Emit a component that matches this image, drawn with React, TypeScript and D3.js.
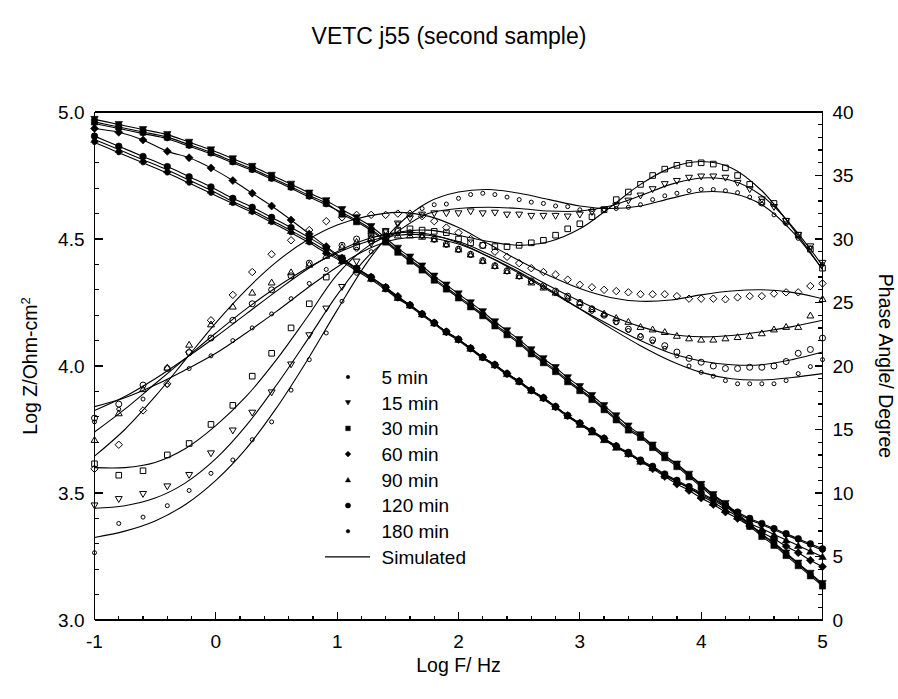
import React from 'react';
import * as d3 from 'd3';

// log10 frequency of each measured point
const LOGF = [-1.0, -0.8, -0.6, -0.4, -0.22, -0.04, 0.14, 0.3, 0.46, 0.62, 0.77, 0.91, 1.04, 1.16, 1.28,
  1.4, 1.5, 1.6, 1.7, 1.8, 1.9, 2.0, 2.1, 2.2, 2.3, 2.4, 2.5, 2.6, 2.7, 2.8, 2.9, 3.0, 3.1, 3.2, 3.3, 3.4,
  3.5, 3.6, 3.7, 3.8, 3.9, 4.0, 4.1, 4.2, 4.3, 4.4, 4.5, 4.6, 4.7, 4.8, 4.9, 5.0];

// log10 frequency of the simulated phase curves
const SIM_LOGF = [-1, -0.75, -0.5, -0.25, 0, 0.25, 0.5, 0.75, 1, 1.25, 1.5, 1.75, 2, 2.25, 2.5, 2.75, 3,
  3.25, 3.5, 3.75, 4, 4.25, 4.5, 4.75, 5];

const SERIES_NAMES = ['5 min', '15 min', '30 min', '60 min', '90 min', '120 min', '180 min'];

// Log |Z| (Ohm-cm2)
const Z_5 = [4.955, 4.935, 4.915, 4.895, 4.865, 4.835, 4.80, 4.77, 4.735, 4.70, 4.665, 4.635, 4.604, 4.574, 4.539, 4.494, 4.454, 4.419, 4.384, 4.344, 4.309, 4.274, 4.239, 4.204, 4.164, 4.129, 4.094, 4.054, 4.019, 3.984, 3.944, 3.909, 3.874, 3.834, 3.794, 3.754, 3.725, 3.685, 3.645, 3.61, 3.57, 3.53, 3.49, 3.455, 3.415, 3.375, 3.335, 3.30, 3.26, 3.22, 3.18, 3.14];
const Z_15 = [4.971, 4.951, 4.931, 4.911, 4.881, 4.851, 4.816, 4.786, 4.751, 4.716, 4.681, 4.651, 4.616, 4.584, 4.549, 4.504, 4.464, 4.429, 4.394, 4.354, 4.319, 4.284, 4.249, 4.214, 4.174, 4.139, 4.104, 4.064, 4.029, 3.994, 3.954, 3.919, 3.884, 3.844, 3.804, 3.764, 3.729, 3.689, 3.649, 3.614, 3.574, 3.534, 3.494, 3.459, 3.419, 3.379, 3.339, 3.304, 3.264, 3.224, 3.184, 3.144];
const Z_30 = [4.961, 4.941, 4.921, 4.901, 4.871, 4.841, 4.806, 4.776, 4.741, 4.706, 4.671, 4.641, 4.598, 4.568, 4.533, 4.488, 4.448, 4.413, 4.378, 4.338, 4.303, 4.268, 4.233, 4.198, 4.158, 4.123, 4.088, 4.048, 4.013, 3.978, 3.938, 3.903, 3.868, 3.828, 3.788, 3.748, 3.719, 3.679, 3.639, 3.604, 3.564, 3.524, 3.484, 3.449, 3.409, 3.369, 3.329, 3.294, 3.254, 3.214, 3.174, 3.134];
const Z_60 = [4.935, 4.92, 4.89, 4.845, 4.82, 4.78, 4.73, 4.68, 4.63, 4.575, 4.52, 4.47, 4.425, 4.385, 4.35, 4.31, 4.275, 4.24, 4.205, 4.17, 4.135, 4.105, 4.07, 4.035, 4.005, 3.97, 3.94, 3.905, 3.875, 3.84, 3.805, 3.775, 3.745, 3.715, 3.685, 3.655, 3.625, 3.595, 3.565, 3.535, 3.51, 3.48, 3.455, 3.425, 3.40, 3.37, 3.345, 3.32, 3.29, 3.265, 3.235, 3.21];
const Z_90 = [4.892, 4.852, 4.812, 4.772, 4.732, 4.692, 4.648, 4.613, 4.573, 4.533, 4.493, 4.453, 4.415, 4.38, 4.345, 4.305, 4.27, 4.24, 4.205, 4.17, 4.135, 4.105, 4.07, 4.035, 4.005, 3.97, 3.94, 3.905, 3.875, 3.84, 3.805, 3.77, 3.74, 3.71, 3.68, 3.655, 3.625, 3.60, 3.57, 3.545, 3.52, 3.49, 3.463, 3.435, 3.408, 3.381, 3.359, 3.337, 3.315, 3.293, 3.271, 3.25];
const Z_120 = [4.905, 4.865, 4.825, 4.785, 4.745, 4.705, 4.66, 4.625, 4.585, 4.545, 4.505, 4.465, 4.42, 4.385, 4.35, 4.31, 4.27, 4.24, 4.205, 4.17, 4.135, 4.105, 4.07, 4.035, 4.005, 3.97, 3.94, 3.905, 3.875, 3.84, 3.805, 3.775, 3.745, 3.715, 3.685, 3.66, 3.63, 3.605, 3.575, 3.55, 3.525, 3.50, 3.475, 3.45, 3.425, 3.40, 3.38, 3.36, 3.34, 3.32, 3.30, 3.28];
const Z_180 = [4.88, 4.84, 4.80, 4.76, 4.72, 4.68, 4.64, 4.605, 4.565, 4.525, 4.485, 4.445, 4.41, 4.375, 4.34, 4.30, 4.265, 4.235, 4.20, 4.165, 4.13, 4.10, 4.065, 4.03, 4.00, 3.965, 3.935, 3.90, 3.87, 3.835, 3.80, 3.77, 3.74, 3.71, 3.68, 3.655, 3.625, 3.60, 3.57, 3.545, 3.52, 3.495, 3.47, 3.445, 3.42, 3.395, 3.375, 3.355, 3.335, 3.315, 3.295, 3.275];

// Phase angle (degree)
const PH_5 = [5.3, 7.6, 8.1, 9.0, 10.2, 11.55, 12.6, 14.2, 15.6, 18.1, 20.5, 22.6, 25.1, 27.3, 29.0, 30.3, 31.2, 31.9, 32.4, 32.7, 32.75, 33.2, 33.5, 33.6, 33.5, 33.3, 33.1, 32.9, 32.8, 32.6, 32.55, 32.3, 32.3, 32.3, 32.4, 32.5, 32.7, 33.1, 33.4, 33.6, 33.8, 33.9, 33.9, 33.8, 33.65, 33.3, 32.75, 31.9, 31.2, 30.05, 29.3, 28.0];
const PH_15 = [9.0, 9.5, 9.9, 10.5, 11.4, 13.1, 14.9, 16.3, 17.9, 20.1, 22.4, 24.5, 26.2, 28.2, 29.6, 30.6, 31.2, 31.6, 31.9, 32.0, 32.0, 32.0, 32.15, 32.0, 32.05, 31.9, 31.9, 31.8, 31.8, 31.8, 31.75, 31.9, 32.1, 32.3, 32.6, 33.0, 33.4, 33.9, 34.3, 34.55, 34.8, 34.9, 34.9, 34.8, 34.4, 33.9, 33.1, 32.5, 31.4, 30.3, 29.4, 28.1];
const PH_30 = [12.3, 11.4, 11.75, 13.0, 13.9, 15.4, 16.9, 19.2, 21.0, 23.0, 24.9, 27.0, 28.5, 29.4, 30.1, 30.5, 30.7, 30.8, 30.7, 30.6, 30.5, 30.0, 29.7, 29.5, 29.4, 29.4, 29.5, 29.7, 29.9, 30.3, 30.8, 31.2, 31.75, 32.3, 33.1, 33.7, 34.3, 35.0, 35.5, 35.8, 35.95, 36.0, 35.9, 35.6, 35.0, 34.3, 32.9, 32.8, 31.4, 30.3, 29.2, 27.7];
const PH_60 = [11.9, 13.8, 16.5, 18.6, 21.1, 23.6, 25.6, 27.4, 28.8, 29.9, 30.7, 31.4, 31.7, 31.9, 31.9, 31.9, 32.0, 32.0, 31.8, 31.4, 30.9, 30.5, 30.0, 29.5, 29.0, 28.6, 28.1, 27.7, 27.4, 27.2, 26.8, 26.4, 26.2, 26.0, 25.9, 25.8, 25.65, 25.65, 25.65, 25.5, 25.3, 25.3, 25.3, 25.25, 25.4, 25.5, 25.5, 25.7, 25.8, 25.8, 26.3, 26.5];
const PH_90 = [14.2, 16.3, 18.2, 19.9, 21.7, 23.3, 24.7, 25.8, 26.6, 27.4, 28.0, 28.7, 29.4, 29.8, 30.1, 30.2, 30.3, 30.3, 30.2, 30.0, 29.6, 29.2, 28.8, 28.3, 27.9, 27.5, 27.1, 26.6, 26.2, 25.8, 25.4, 25.0, 24.5, 24.15, 23.8, 23.5, 23.1, 22.9, 22.7, 22.4, 22.2, 22.1, 22.1, 22.2, 22.3, 22.4, 22.6, 22.9, 23.1, 23.1, 24.0, 25.3];
const PH_120 = [15.9, 17.0, 18.5, 19.8, 21.05, 22.2, 23.6, 24.9, 26.0, 27.1, 28.1, 28.9, 29.5, 30.0, 30.4, 30.6, 30.6, 30.5, 30.3, 30.0, 29.6, 29.2, 28.8, 28.3, 27.9, 27.5, 27.1, 26.7, 26.3, 25.9, 25.5, 25.0, 24.5, 24.0, 23.5, 22.9, 22.3, 22.05, 21.6, 21.1, 20.6, 20.3, 20.0, 19.8, 19.8, 19.9, 19.9, 20.0, 20.35, 21.0, 21.3, 22.2];
const PH_180 = [15.6, 16.6, 17.4, 18.5, 19.8, 20.8, 22.0, 23.0, 24.1, 25.3, 26.5, 27.6, 28.4, 29.2, 29.8, 30.2, 30.4, 30.4, 30.2, 29.9, 29.5, 29.1, 28.7, 28.2, 27.8, 27.4, 27.0, 26.6, 26.2, 25.7, 25.2, 24.7, 24.3, 24.0, 23.4, 22.8, 22.4, 21.9, 21.4, 20.8, 20.0, 19.5, 19.2, 18.85, 18.6, 18.6, 18.6, 18.6, 18.85, 19.4, 19.95, 20.5];

// Simulated phase angle (degree) at SIM_LOGF
const SIM_PH_5 = [6.5, 7.0, 7.8, 9.1, 11.0, 13.5, 16.7, 20.4, 24.4, 28.2, 31.1, 32.9, 33.7, 33.9, 33.6, 33.1, 32.6, 32.4, 32.6, 33.2, 33.7, 33.6, 32.7, 30.6, 27.6];
const SIM_PH_15 = [8.8, 9.0, 9.6, 10.8, 12.7, 15.3, 18.5, 22.0, 25.6, 28.6, 30.6, 32.0, 32.4, 32.5, 32.4, 32.2, 32.2, 32.6, 33.4, 34.3, 34.8, 34.6, 33.4, 31.0, 27.9];
const SIM_PH_30 = [12.0, 12.0, 12.4, 13.5, 15.3, 17.6, 20.5, 23.8, 27.2, 29.4, 30.5, 30.7, 30.3, 29.8, 29.5, 29.8, 30.8, 32.5, 34.3, 35.6, 36.1, 35.6, 33.8, 30.9, 27.6];
const SIM_PH_60 = [12.9, 15.0, 17.6, 20.5, 23.4, 26.0, 28.2, 29.9, 31.1, 31.8, 32.1, 31.8, 30.9, 29.6, 28.3, 27.1, 26.1, 25.4, 25.1, 25.2, 25.6, 25.9, 26.0, 25.8, 25.3];
const SIM_PH_90 = [14.8, 16.6, 18.6, 20.6, 22.6, 24.5, 26.2, 27.7, 28.9, 29.8, 30.3, 30.3, 29.8, 28.8, 27.6, 26.3, 25.1, 24.0, 23.1, 22.5, 22.3, 22.4, 22.7, 23.1, 23.6];
const SIM_PH_120 = [16.5, 17.6, 19.0, 20.6, 22.3, 24.1, 25.9, 27.6, 29.0, 30.0, 30.5, 30.4, 29.7, 28.6, 27.3, 25.9, 24.5, 23.2, 22.0, 21.0, 20.4, 20.1, 20.1, 20.5, 21.1];
const SIM_PH_180 = [16.8, 17.5, 18.5, 19.7, 21.0, 22.6, 24.3, 26.1, 27.8, 29.2, 30.0, 30.1, 29.6, 28.6, 27.4, 26.0, 24.5, 23.0, 21.6, 20.4, 19.5, 19.0, 18.9, 19.1, 19.4];

const X_TICKS = [-1, 0, 1, 2, 3, 4, 5];
const LEFT_TICKS = [3.0, 3.5, 4.0, 4.5, 5.0];
const RIGHT_TICKS = [0, 5, 10, 15, 20, 25, 30, 35, 40];

type Shape = 'circle' | 'square' | 'diamond' | 'triUp' | 'triDown';

const STYLE: { shape: Shape; size: number; lsize: number }[] = [
  { shape: 'circle', size: 4.6, lsize: 3.6 },
  { shape: 'triDown', size: 7.5, lsize: 5.2 },
  { shape: 'square', size: 6.2, lsize: 4.6 },
  { shape: 'diamond', size: 8, lsize: 5.8 },
  { shape: 'triUp', size: 7.5, lsize: 5.2 },
  { shape: 'circle', size: 6.6, lsize: 5.2 },
  { shape: 'circle', size: 4.6, lsize: 3.6 },
];

function markerPath(shape: Shape, cx: number, cy: number, s: number): string {
  const h = s / 2;
  switch (shape) {
    case 'square':
      return `M${cx - h},${cy - h}h${s}v${s}h${-s}Z`;
    case 'diamond':
      return `M${cx},${cy - h}L${cx + h},${cy}L${cx},${cy + h}L${cx - h},${cy}Z`;
    case 'triUp':
      return `M${cx - h},${cy + h * 0.8}L${cx + h},${cy + h * 0.8}L${cx},${cy - h * 0.9}Z`;
    case 'triDown':
      return `M${cx - h},${cy - h * 0.8}L${cx + h},${cy - h * 0.8}L${cx},${cy + h * 0.9}Z`;
    default:
      return `M${cx - h},${cy}a${h},${h} 0 1,0 ${s},0a${h},${h} 0 1,0 ${-s},0Z`;
  }
}

const FONT = 'Liberation Sans, Arial, Helvetica, sans-serif';

export default function App() {
  const W = 898;
  const H = 699;
  const L = 94.5, R = 822.5, T = 112, B = 620;
  const x = d3.scaleLinear().domain([-1, 5]).range([L, R]);
  const yL = d3.scaleLinear().domain([3, 5]).range([B, T]);
  const yR = d3.scaleLinear().domain([0, 40]).range([B, T]);

  const zSeries = [Z_5, Z_15, Z_30, Z_60, Z_90, Z_120, Z_180];
  const pSeries = [PH_5, PH_15, PH_30, PH_60, PH_90, PH_120, PH_180];
  const sSeries = [SIM_PH_5, SIM_PH_15, SIM_PH_30, SIM_PH_60, SIM_PH_90, SIM_PH_120, SIM_PH_180];

  const zLine = d3.line<number>().x((_, i) => x(LOGF[i])).y((d) => yL(d)).curve(d3.curveMonotoneX);
  const pLine = d3.line<number>().x((_, i) => x(SIM_LOGF[i])).y((d) => yR(d)).curve(d3.curveCatmullRom.alpha(0.5));

  const xMinor = d3.range(-1, 5.001, 0.2);
  const yLMinor = d3.range(3, 5.001, 0.1);
  const yRMinor = d3.range(0, 40.001, 1);

  const legendY0 = 377;
  const legendDy = 25.7;

  return (
    <div style={{ position: 'absolute', left: 0, top: 0 }}>
      <svg width={W} height={H} viewBox={`0 0 ${W} ${H}`} style={{ display: 'block', background: '#fff' }} fontFamily={FONT}>
        <rect x={0} y={0} width={W} height={H} fill="#fff" />
        <text x={449} y={44} textAnchor="middle" fontSize={23} fill="#000">VETC j55 (second sample)</text>

        <defs>
          <clipPath id="plotclip">
            <rect x={L} y={T - 6} width={R - L + 6} height={B - T + 6} />
          </clipPath>
        </defs>

        <g clipPath="url(#plotclip)" fill="none" stroke="#000" strokeWidth={1.1}>
          {zSeries.map((s, k) => (
            <path key={'zl' + k} d={zLine(s) || ''} />
          ))}
          {sSeries.map((s, k) => (
            <path key={'sl' + k} d={pLine(s) || ''} />
          ))}
        </g>

        <g>
          {zSeries.map((s, k) => (
            <g key={'zm' + k} fill="#000" stroke="#000" strokeWidth={0.6}>
              {s.map((v, i) => (
                <path key={i} d={markerPath(STYLE[k].shape, x(LOGF[i]), yL(v), STYLE[k].size)} />
              ))}
            </g>
          ))}
          {pSeries.map((s, k) => (
            <g key={'pm' + k} fill="none" stroke="#000" strokeWidth={1}>
              {s.map((v, i) => (
                <path key={i} d={markerPath(STYLE[k].shape, x(LOGF[i]), yR(v), STYLE[k].size - 0.6)} />
              ))}
            </g>
          ))}
        </g>

        {/* frame */}
        <g stroke="#000" strokeWidth={1.3} fill="none" shapeRendering="crispEdges">
          <line x1={L} y1={T} x2={R} y2={T} />
          <line x1={L} y1={B} x2={R} y2={B} />
          <line x1={L} y1={T} x2={L} y2={B} />
          <line x1={R} y1={T} x2={R} y2={B} />
          {xMinor.map((v, i) => (
            <line key={'xm' + i} x1={x(v)} x2={x(v)} y1={B} y2={B - 4.5} />
          ))}
          {X_TICKS.map((v) => (
            <line key={'xM' + v} x1={x(v)} x2={x(v)} y1={B} y2={B - 8} />
          ))}
          {yLMinor.map((v, i) => (
            <line key={'lm' + i} x1={L} x2={L + 4.5} y1={yL(v)} y2={yL(v)} />
          ))}
          {LEFT_TICKS.map((v) => (
            <line key={'lM' + v} x1={L} x2={L + 8} y1={yL(v)} y2={yL(v)} />
          ))}
          {yRMinor.map((v, i) => (
            <line key={'rm' + i} x1={R} x2={R - 4.5} y1={yR(v)} y2={yR(v)} />
          ))}
          {RIGHT_TICKS.map((v) => (
            <line key={'rM' + v} x1={R} x2={R - 8} y1={yR(v)} y2={yR(v)} />
          ))}
        </g>

        <g fontSize={19} fill="#000">
          {X_TICKS.map((v) => (
            <text key={'xt' + v} x={x(v)} y={B + 28} textAnchor="middle">{String(v)}</text>
          ))}
          {LEFT_TICKS.map((v) => (
            <text key={'lt' + v} x={L - 10} y={yL(v) + 6.8} textAnchor="end">{v.toFixed(1)}</text>
          ))}
          {RIGHT_TICKS.map((v) => (
            <text key={'rt' + v} x={R + 10} y={yR(v) + 6.8} textAnchor="start">{String(v)}</text>
          ))}
        </g>

        <text x={(L + R) / 2} y={672} textAnchor="middle" fontSize={19.5} fill="#000">Log F/ Hz</text>
        <text transform={`translate(37,${(T + B) / 2}) rotate(-90)`} textAnchor="middle" fontSize={19.5} fill="#000">
          Log Z/Ohm-cm<tspan dy={-7} fontSize={13}>2</tspan>
        </text>
        <text transform={`translate(879,${(T + B) / 2}) rotate(90)`} textAnchor="middle" fontSize={19.5} fill="#000">Phase Angle/ Degree</text>

        {/* legend */}
        <g fontSize={19} fill="#000">
          {SERIES_NAMES.map((name, k) => {
            const cy = legendY0 + k * legendDy;
            return (
              <g key={'lg' + k}>
                <path d={markerPath(STYLE[k].shape, 348, cy, STYLE[k].lsize)} fill="#000" stroke="#000" strokeWidth={0.5} />
                <text x={381.5} y={cy + 6.8}>{name}</text>
              </g>
            );
          })}
          <line x1={325} x2={370} y1={legendY0 + 7 * legendDy} y2={legendY0 + 7 * legendDy} stroke="#000" strokeWidth={1.1} />
          <text x={381.5} y={legendY0 + 7 * legendDy + 6.8}>Simulated</text>
        </g>
      </svg>
    </div>
  );
}
